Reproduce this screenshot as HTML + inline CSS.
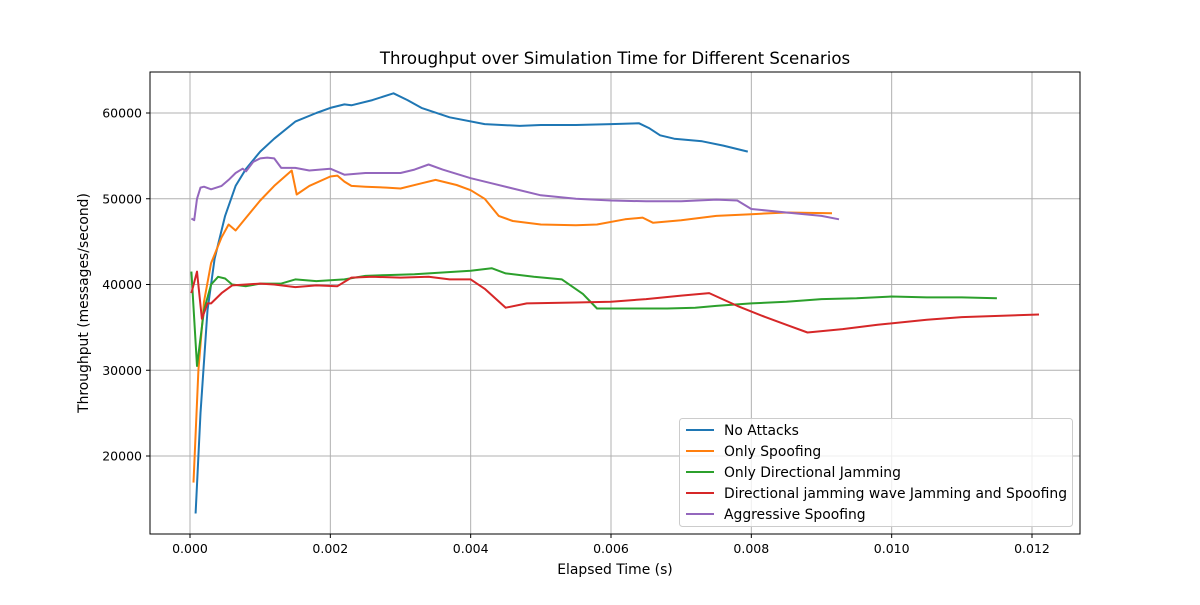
<!DOCTYPE html>
<html><head><meta charset="utf-8"><style>
body{margin:0;background:#fff;}
svg text{font-family:"DejaVu Sans","Liberation Sans",sans-serif;fill:#000;}
</style></head><body>
<svg id="chart" width="1200" height="600" viewBox="0 0 1200 600">
<rect width="1200" height="600" fill="#fff"/>
<text x="615" y="64" font-size="16.6" text-anchor="middle">Throughput over Simulation Time for Different Scenarios</text>
<g id="grid"></g>
<g id="series"></g>
<rect x="150" y="72" width="930" height="462" fill="none" stroke="#000" stroke-width="1"/>
<g id="ticks"></g>
<text x="615" y="574" font-size="13.9" text-anchor="middle">Elapsed Time (s)</text>
<text transform="translate(88,303) rotate(-90)" font-size="13.9" text-anchor="middle">Throughput (messages/second)</text>
<g id="legend"></g>
</svg>
<script>
const NS="http://www.w3.org/2000/svg";
const xTicks=[0,0.002,0.004,0.006,0.008,0.010,0.012];
const xTickLabels=["0.000","0.002","0.004","0.006","0.008","0.010","0.012"];
const yTicks=[20000,30000,40000,50000,60000];
const seriesNames=["No Attacks","Only Spoofing","Only Directional Jamming","Directional jamming wave Jamming and Spoofing","Aggressive Spoofing"];
const seriesColors=["#1f77b4","#ff7f0e","#2ca02c","#d62728","#9467bd"];
// x in milliseconds
const noAttacksX=[0.08,0.15,0.25,0.35,0.5,0.65,0.8,1.0,1.2,1.5,1.8,2.0,2.2,2.3,2.6,2.9,3.1,3.3,3.7,4.2,4.7,5.0,5.5,6.0,6.4,6.55,6.7,6.9,7.3,7.6,7.95];
const noAttacksY=[13300,25000,37000,43000,48000,51500,53500,55500,57000,59000,60000,60600,61000,60900,61500,62300,61500,60600,59500,58700,58500,58600,58600,58700,58800,58200,57400,57000,56700,56200,55500];
const spoofX=[0.05,0.12,0.2,0.3,0.45,0.55,0.65,0.8,1.0,1.2,1.45,1.52,1.7,2.0,2.1,2.2,2.3,2.5,2.8,3.0,3.3,3.5,3.8,4.0,4.2,4.4,4.6,5.0,5.5,5.8,6.2,6.45,6.6,7.0,7.5,8.0,8.5,9.15];
const spoofY=[16900,30000,38000,42500,45500,47000,46300,47800,49800,51500,53300,50500,51500,52600,52700,52000,51500,51400,51300,51200,51800,52200,51600,51000,50000,48000,47400,47000,46900,47000,47600,47800,47200,47500,48000,48200,48400,48300];
const jamX=[0.02,0.1,0.2,0.3,0.4,0.5,0.6,0.8,1.0,1.3,1.5,1.8,2.2,2.5,2.8,3.2,3.6,4.0,4.3,4.5,4.9,5.3,5.6,5.8,6.2,6.8,7.2,7.5,8.0,8.5,9.0,9.5,10.0,10.5,11.0,11.5];
const jamY=[41500,30500,37000,40000,40900,40700,40000,39800,40100,40100,40600,40400,40600,41000,41100,41200,41400,41600,41900,41300,40900,40600,38900,37200,37200,37200,37300,37500,37800,38000,38300,38400,38600,38500,38500,38400];
const jamSpoofX=[0.02,0.1,0.17,0.25,0.3,0.45,0.6,0.8,1.0,1.2,1.5,1.8,2.1,2.3,2.6,3.0,3.4,3.7,4.0,4.2,4.5,4.8,5.5,6.0,6.5,7.0,7.4,7.8,8.2,8.5,8.8,9.3,9.8,10.5,11.0,12.1];
const jamSpoofY=[39000,41500,36000,37800,37800,39000,39900,40000,40100,40000,39700,39900,39800,40800,40900,40800,40900,40600,40600,39500,37300,37800,37900,38000,38300,38700,39000,37500,36200,35300,34400,34800,35300,35900,36200,36500];
const aggX=[0.02,0.06,0.1,0.15,0.2,0.3,0.45,0.55,0.65,0.75,0.8,0.9,1.0,1.1,1.2,1.3,1.5,1.7,2.0,2.2,2.5,3.0,3.2,3.4,3.6,4.0,4.3,4.6,5.0,5.5,6.0,6.5,7.0,7.5,7.8,8.0,8.5,9.0,9.25];
const aggY=[47700,47500,50000,51300,51400,51100,51500,52200,53000,53500,53200,54300,54700,54800,54700,53600,53600,53300,53500,52800,53000,53000,53400,54000,53400,52400,51800,51200,50400,50000,49800,49700,49700,49900,49800,48800,48400,48000,47600];
const allX=[noAttacksX,spoofX,jamX,jamSpoofX,aggX];
const allY=[noAttacksY,spoofY,jamY,jamSpoofY,aggY];
const seriesKeys=["no-attacks","only-spoofing","only-directional-jamming","jamming-and-spoofing","aggressive-spoofing"];

function sx(t){return 190+t*(1032-190)/0.012;}
function sy(v){return 627.5-v*0.008575;}

const grid=document.getElementById('grid'),ticks=document.getElementById('ticks');
xTicks.forEach((t,i)=>{
  const l=document.createElementNS(NS,'line');
  l.setAttribute('x1',sx(t));l.setAttribute('x2',sx(t));l.setAttribute('y1',72);l.setAttribute('y2',534);
  l.setAttribute('stroke','#b0b0b0');l.setAttribute('stroke-width','1');
  
  
  grid.appendChild(l);
  const tk=document.createElementNS(NS,'line');
  tk.setAttribute('x1',sx(t));tk.setAttribute('x2',sx(t));tk.setAttribute('y1',534);tk.setAttribute('y2',538);tk.setAttribute('stroke','#000');
  
  
  ticks.appendChild(tk);
  const tx=document.createElementNS(NS,'text');
  tx.setAttribute('x',sx(t));tx.setAttribute('y',553);tx.setAttribute('font-size','12.5');tx.setAttribute('text-anchor','middle');
  tx.textContent=xTickLabels[i];
  
  
  ticks.appendChild(tx);
});
yTicks.forEach(v=>{
  const l=document.createElementNS(NS,'line');
  l.setAttribute('x1',150);l.setAttribute('x2',1080);l.setAttribute('y1',sy(v));l.setAttribute('y2',sy(v));
  l.setAttribute('stroke','#b0b0b0');l.setAttribute('stroke-width','1');
  
  
  grid.appendChild(l);
  const tk=document.createElementNS(NS,'line');
  tk.setAttribute('x1',146);tk.setAttribute('x2',150);tk.setAttribute('y1',sy(v));tk.setAttribute('y2',sy(v));tk.setAttribute('stroke','#000');
  
  
  ticks.appendChild(tk);
  const tx=document.createElementNS(NS,'text');
  tx.setAttribute('x',142);tx.setAttribute('y',sy(v)+4.5);tx.setAttribute('font-size','12.5');tx.setAttribute('text-anchor','end');
  tx.textContent=String(v);
  
  
  ticks.appendChild(tx);
});
const sg=document.getElementById('series');
allX.forEach((xs,k)=>{
  const p=document.createElementNS(NS,'polyline');
  p.setAttribute('points',xs.map((x,i)=>sx(x/1000).toFixed(1)+','+sy(allY[k][i]).toFixed(1)).join(' '));
  p.setAttribute('fill','none');p.setAttribute('stroke',seriesColors[k]);p.setAttribute('stroke-width','2');p.setAttribute('stroke-linejoin','round');
  
  
  sg.appendChild(p);
});
const lg=document.getElementById('legend');
const box=document.createElementNS(NS,'rect');
box.setAttribute('x',679.5);box.setAttribute('y',418.5);box.setAttribute('width',393);box.setAttribute('height',108);box.setAttribute('rx',3);
box.setAttribute('fill','#fff');box.setAttribute('fill-opacity','0.8');box.setAttribute('stroke','#ccc');


lg.appendChild(box);
seriesNames.forEach((n,k)=>{
  const y=430+k*21;
  const l=document.createElementNS(NS,'line');
  l.setAttribute('x1',686);l.setAttribute('x2',714);l.setAttribute('y1',y);l.setAttribute('y2',y);l.setAttribute('stroke',seriesColors[k]);l.setAttribute('stroke-width','2');
  
  
  lg.appendChild(l);
  const t=document.createElementNS(NS,'text');
  t.setAttribute('x',724);t.setAttribute('y',y+5);t.setAttribute('font-size','13.9');
  t.textContent=n;
  
  
  lg.appendChild(t);
});
</script>
</body></html>
